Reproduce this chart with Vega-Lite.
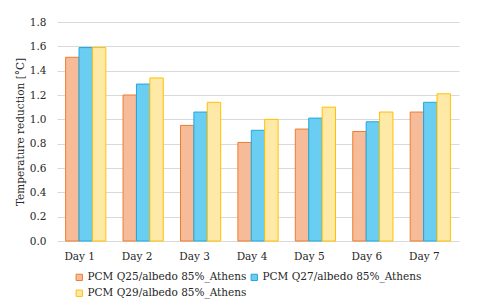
{
  "$schema": "https://vega.github.io/schema/vega-lite/v6.json",
  "autosize": "none",
  "width": 402,
  "height": 219,
  "padding": {"left": 57, "top": 22, "right": 21, "bottom": 66},
  "background": "white",
  "config": {
    "font": "DejaVu Serif",
    "view": {"stroke": null},
    "axis": {"labelFont": "DejaVu Serif", "titleFont": "DejaVu Serif", "labelColor": "#262626", "titleColor": "#262626"},
    "legend": {"labelFont": "DejaVu Serif"}
  },
  "data": {
    "values": [
      {"day": "Day 1", "series": "PCM Q25/albedo 85%_Athens", "value": 1.51},
      {"day": "Day 1", "series": "PCM Q27/albedo 85%_Athens", "value": 1.59},
      {"day": "Day 1", "series": "PCM Q29/albedo 85%_Athens", "value": 1.59},
      {"day": "Day 2", "series": "PCM Q25/albedo 85%_Athens", "value": 1.20},
      {"day": "Day 2", "series": "PCM Q27/albedo 85%_Athens", "value": 1.29},
      {"day": "Day 2", "series": "PCM Q29/albedo 85%_Athens", "value": 1.34},
      {"day": "Day 3", "series": "PCM Q25/albedo 85%_Athens", "value": 0.95},
      {"day": "Day 3", "series": "PCM Q27/albedo 85%_Athens", "value": 1.06},
      {"day": "Day 3", "series": "PCM Q29/albedo 85%_Athens", "value": 1.14},
      {"day": "Day 4", "series": "PCM Q25/albedo 85%_Athens", "value": 0.81},
      {"day": "Day 4", "series": "PCM Q27/albedo 85%_Athens", "value": 0.91},
      {"day": "Day 4", "series": "PCM Q29/albedo 85%_Athens", "value": 1.00},
      {"day": "Day 5", "series": "PCM Q25/albedo 85%_Athens", "value": 0.92},
      {"day": "Day 5", "series": "PCM Q27/albedo 85%_Athens", "value": 1.01},
      {"day": "Day 5", "series": "PCM Q29/albedo 85%_Athens", "value": 1.10},
      {"day": "Day 6", "series": "PCM Q25/albedo 85%_Athens", "value": 0.90},
      {"day": "Day 6", "series": "PCM Q27/albedo 85%_Athens", "value": 0.98},
      {"day": "Day 6", "series": "PCM Q29/albedo 85%_Athens", "value": 1.06},
      {"day": "Day 7", "series": "PCM Q25/albedo 85%_Athens", "value": 1.06},
      {"day": "Day 7", "series": "PCM Q27/albedo 85%_Athens", "value": 1.14},
      {"day": "Day 7", "series": "PCM Q29/albedo 85%_Athens", "value": 1.21}
    ]
  },
  "mark": {"type": "bar", "strokeWidth": 1},
  "encoding": {
    "x": {
      "field": "day", "type": "nominal", "sort": null,
      "scale": {"paddingInner": 0.3, "paddingOuter": 0.15},
      "axis": {"title": null, "labelAngle": 0, "labelFontSize": 10.5, "labelPadding": 10, "labelOffset": -6, "ticks": false, "domain": false, "grid": false}
    },
    "xOffset": {"field": "series", "type": "nominal", "sort": null},
    "y": {
      "field": "value", "type": "quantitative",
      "scale": {"domain": [0, 1.8], "nice": false},
      "axis": {"title": "Temperature reduction [°C]", "titleFontSize": 10.5, "titleFontWeight": "normal", "titlePadding": 4, "labelFontSize": 10.5, "labelPadding": 11, "values": [0, 0.2, 0.4, 0.6, 0.8, 1.0, 1.2, 1.4, 1.6, 1.8], "format": ".1f", "ticks": false, "domain": false, "gridColor": "#D9D9D9", "gridWidth": 1}
    },
    "fill": {
      "field": "series", "type": "nominal",
      "scale": {"range": ["#F6BC9A", "#6ACDF2", "#FFE9A6"]},
      "legend": {"title": null, "orient": "none", "legendX": 17, "legendY": 250, "direction": "horizontal", "columns": 2, "columnPadding": 2, "rowPadding": 5, "labelFontSize": 10.5, "labelColor": "#262626", "labelOffset": 3, "symbolType": "square", "symbolSize": 40, "symbolStrokeWidth": 1, "labelLimit": 300}
    },
    "stroke": {
      "field": "series", "type": "nominal",
      "scale": {"range": ["#ED7D31", "#1FA8E0", "#FFC000"]},
      "legend": null
    }
  }
}
